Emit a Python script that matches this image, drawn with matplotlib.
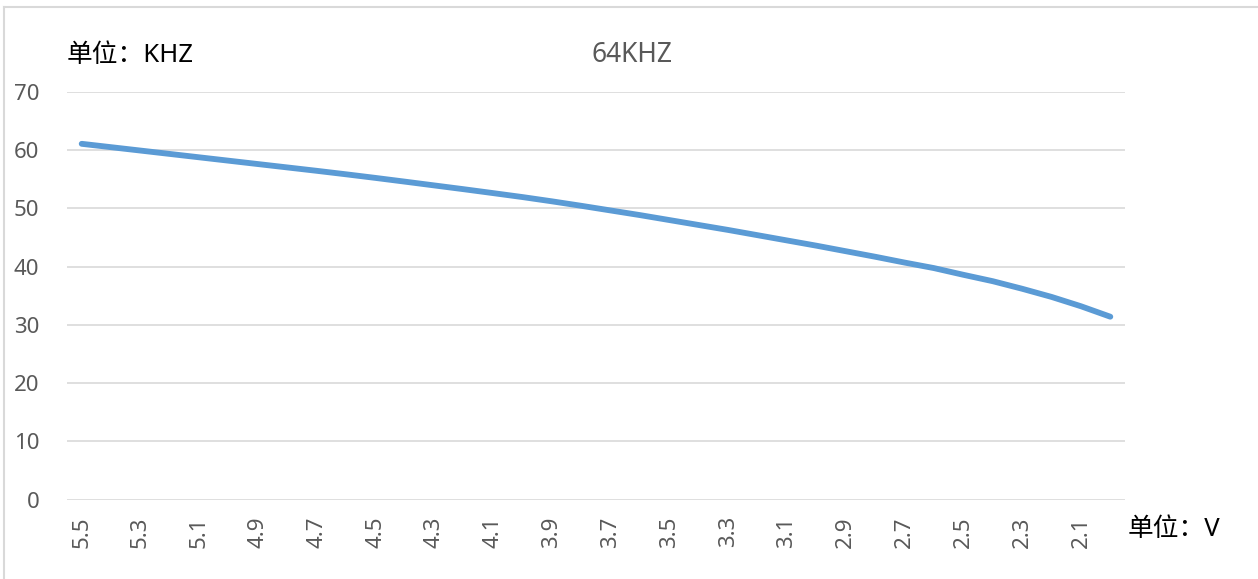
import matplotlib
matplotlib.use('Agg')
import matplotlib.pyplot as plt
from matplotlib.lines import Line2D

plt.rcParams['font.family'] = ['Noto Sans', 'Noto Sans CJK SC', 'DejaVu Sans']

# Voltage categories (V), 5.5 down to 2.0
voltages = ['5.5', '5.4', '5.3', '5.2', '5.1', '5.0', '4.9', '4.8', '4.7', '4.6',
            '4.5', '4.4', '4.3', '4.2', '4.1', '4.0', '3.9', '3.8', '3.7', '3.6',
            '3.5', '3.4', '3.3', '3.2', '3.1', '3.0', '2.9', '2.8', '2.7', '2.6',
            '2.5', '2.4', '2.3', '2.2', '2.1', '2.0']
# Frequency (KHZ)
freq = [61.1, 60.52, 59.94, 59.36, 58.78, 58.2, 57.62, 57.04, 56.46, 55.86,
        55.24, 54.6, 53.95, 53.3, 52.63, 51.95, 51.22, 50.45, 49.65, 48.85,
        48.0, 47.15, 46.3, 45.4, 44.5, 43.6, 42.65, 41.7, 40.7, 39.75,
        38.6, 37.5, 36.2, 34.8, 33.2, 31.4]
y_ticks = [0, 10, 20, 30, 40, 50, 60, 70]

W, H = 1258, 579
fig = plt.figure(figsize=(W / 100, H / 100), dpi=100)
ax = fig.add_axes([67 / W, 1 - 499.5 / H, (1125 - 67) / W, (499.5 - 92) / H])

x = list(range(len(voltages)))
ax.plot(x, freq, color='#5B9BD5', linewidth=4.2, solid_capstyle='round',
        solid_joinstyle='round', zorder=3)

ax.set_xlim(-0.5, len(voltages) - 0.5)
ax.set_ylim(0, 70)
ax.set_yticks(y_ticks)
ax.set_yticklabels([str(v) for v in y_ticks])
ax.set_xticks(x[::2])
ax.set_xticklabels(voltages[::2], rotation=90, va='top', ha='center')

ax.grid(axis='y', color='#D9D9D9', linewidth=1.2)
ax.set_axisbelow(True)
for s in ax.spines.values():
    s.set_visible(False)
ax.tick_params(axis='both', length=0, labelsize=16, labelcolor='#595959')
ax.tick_params(axis='y', pad=20)
ax.tick_params(axis='x', pad=12)

fig.text(632 / W, 1 - 55 / H, '64KHZ', ha='center', va='center',
         fontsize=19, color='#595959')
fig.text(67 / W, 1 - 56 / H, '单位：KHZ', ha='left', va='center',
         fontsize=18.5, color='black')
fig.text(1128 / W, 1 - 530 / H, '单位：V', ha='left', va='center',
         fontsize=18.5, color='black')

# chart frame
fig.add_artist(Line2D([4 / W, 1], [1 - 7 / H, 1 - 7 / H], color='#D9D9D9',
                      linewidth=1.5, transform=fig.transFigure))
fig.add_artist(Line2D([4 / W, 4 / W], [0, 1 - 7 / H], color='#D9D9D9',
                      linewidth=1.5, transform=fig.transFigure))

fig.savefig('out.png', dpi=100)
